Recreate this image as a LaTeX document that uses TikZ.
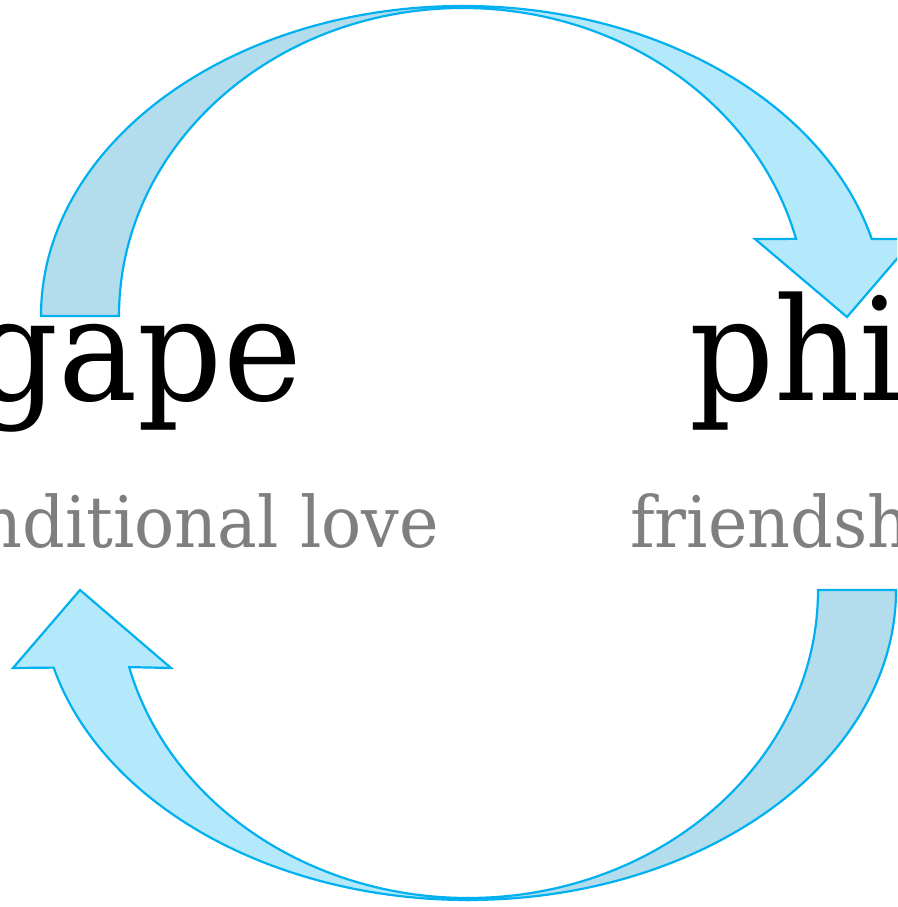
\documentclass[tikz,border=0pt]{standalone}
\usepackage{fontspec}
\setmainfont{DejaVu Serif}
\newfontfamily\bigserif[FakeStretch=0.93]{DejaVu Serif}
\newfontfamily\subserif[FakeStretch=0.94]{DejaVu Serif}
\usetikzlibrary{calc}
\definecolor{edge}{HTML}{00B0F0}
\definecolor{backfill}{HTML}{B3DDEC}
\definecolor{frontfill}{HTML}{B3E9FA}
\definecolor{subgray}{HTML}{7F7F7F}
\tikzset{
  band/.style={draw=edge, line width=2.2pt, line join=miter},
  back/.style={band, fill=backfill},
  front/.style={band, fill=frontfill},
  bigword/.style={inner sep=0pt, font=\bigserif\fontsize{143}{150}\selectfont, text=black},
  subword/.style={inner sep=0pt, font=\subserif\fontsize{71}{80}\selectfont, text=subgray}
}
\begin{document}
\begin{tikzpicture}[x=1pt, y=1pt]
\useasboundingbox (0,0) rectangle (897,907);
\clip (0,0) rectangle (897,907);
% centres of the two ellipses
\coordinate (C1) at (463,591);
\coordinate (C2) at (468,317);
% top arrow: back half
\draw[back] ($(C1)+(180:422pt and 310pt)$) arc[start angle=180, end angle=90, x radius=422pt, y radius=310pt]
  -- ($(C1)+(90:344pt and 308pt)$) arc[start angle=90, end angle=180, x radius=344pt, y radius=308pt] -- cycle;
% top arrow: front half with head
\coordinate (tw1) at (914,668);
\coordinate (tt) at (847,590);
\coordinate (tw2) at (755,668);
\draw[front] ($(C1)+(90:422pt and 310pt)$) arc[start angle=90, end angle=14.4, x radius=422pt, y radius=310pt]
  -- (tw1) -- (tt) -- (tw2)
  -- ($(C1)+(14.5:344pt and 308pt)$) arc[start angle=14.5, end angle=90, x radius=344pt, y radius=308pt] -- cycle;
% bottom arrow: back half
\draw[back] ($(C2)+(0:428pt and 310pt)$) arc[start angle=0, end angle=-90, x radius=428pt, y radius=310pt]
  -- ($(C2)+(-90:350pt and 308pt)$) arc[start angle=-90, end angle=0, x radius=350pt, y radius=308pt] -- cycle;
% bottom arrow: front half with head
\coordinate (bw1) at (13,239);
\coordinate (bt) at (80,317);
\coordinate (bw2) at (171,239);
\draw[front] ($(C2)+(-90:428pt and 310pt)$) arc[start angle=-90, end angle=-165.5, x radius=428pt, y radius=310pt]
  -- (bw1) -- (bt) -- (bw2)
  -- ($(C2)+(-165.5:350pt and 308pt)$) arc[start angle=-165.5, end angle=-90, x radius=350pt, y radius=308pt] -- cycle;
% words
\node[bigword, anchor=base east] (agape) at (302,506) {agape};
\node[subword, anchor=base east] (agapesub) at (439,359) {unconditional love};
\node[bigword, anchor=base west] (philia) at (689,506) {philia};
\node[subword, anchor=base west] (philiasub) at (630,359) {friendship};
\end{tikzpicture}
\end{document}
